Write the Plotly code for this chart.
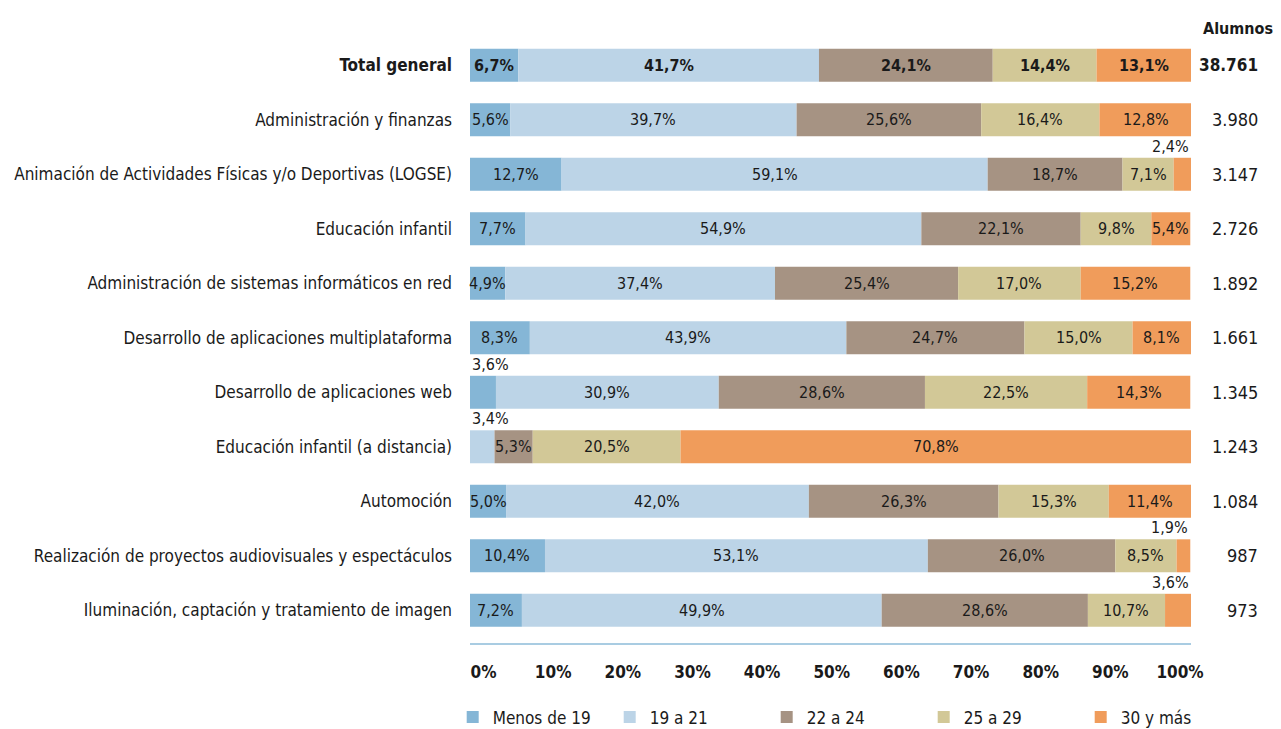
import plotly.graph_objects as go

categories = [
    "Total general",
    "Administración y finanzas",
    "Animación de Actividades Físicas y/o Deportivas (LOGSE)",
    "Educación infantil",
    "Administración de sistemas informáticos en red",
    "Desarrollo de aplicaciones multiplataforma",
    "Desarrollo de aplicaciones web",
    "Educación infantil (a distancia)",
    "Automoción",
    "Realización de proyectos audiovisuales y espectáculos",
    "Iluminación, captación y tratamiento de imagen",
]
alumnos = ["38.761", "3.980", "3.147", "2.726", "1.892", "1.661", "1.345",
           "1.243", "1.084", "987", "973"]

series_names = ["Menos de 19", "19 a 21", "22 a 24", "25 a 29", "30 y más"]
menos_19 = [6.7, 5.6, 12.7, 7.7, 4.9, 8.3, 3.6, 0.0, 5.0, 10.4, 7.2]
de_19_21 = [41.7, 39.7, 59.1, 54.9, 37.4, 43.9, 30.9, 3.4, 42.0, 53.1, 49.9]
de_22_24 = [24.1, 25.6, 18.7, 22.1, 25.4, 24.7, 28.6, 5.3, 26.3, 26.0, 28.6]
de_25_29 = [14.4, 16.4, 7.1, 9.8, 17.0, 15.0, 22.5, 20.5, 15.3, 8.5, 10.7]
mas_30 = [13.1, 12.8, 2.4, 5.4, 15.2, 8.1, 14.3, 70.8, 11.4, 1.9, 3.6]

x_ticks = [0, 10, 20, 30, 40, 50, 60, 70, 80, 90, 100]

colors = ["#85b6d6", "#bcd4e7", "#a69383", "#d2c897", "#f09c5b"]
FONT = "DejaVu Sans Condensed, Liberation Sans Narrow, sans-serif"
TXT = "#1a1a1a"
SMALL = 4.0

series = [menos_19, de_19_21, de_22_24, de_25_29, mas_30]
ypos = list(range(len(categories)))

def fmt(v):
    return f"{v:.1f}".replace(".", ",") + "%"

fig = go.Figure()
annotations = []
cum = [0.0] * len(categories)
for name, vals, col in zip(series_names, series, colors):
    for i, v in enumerate(vals):
        if v <= 0:
            continue
        t = fmt(v)
        if i == 0:
            t = f"<b>{t}</b>"
        start = cum[i]
        if v >= SMALL:
            annotations.append(dict(
                x=start + v / 2, y=i, xref="x", yref="y", text=t,
                showarrow=False, xanchor="center", yanchor="middle",
                font=dict(family=FONT, size=16, color=TXT),
            ))
        else:
            left = start < 50
            annotations.append(dict(
                x=start if left else start + v, y=i - 0.30,
                xref="x", yref="y", text=t, showarrow=False,
                xanchor="left" if left else "right", yanchor="bottom",
                font=dict(family=FONT, size=16, color=TXT),
            ))
    fig.add_trace(go.Bar(
        name=name, y=ypos, x=vals, base=cum[:], orientation="h",
        marker=dict(color=col, line=dict(width=0)),
        width=0.605, hoverinfo="skip",
    ))
    cum = [c + v for c, v in zip(cum, vals)]

for i, a in enumerate(alumnos):
    t = f"<b>{a}</b>" if i == 0 else a
    annotations.append(dict(
        x=1.0957, y=i, xref="paper", yref="y", text=t, showarrow=False,
        xanchor="right", yanchor="middle",
        font=dict(family=FONT, size=17 if i == 0 else 18, color=TXT),
    ))
annotations.append(dict(
    x=1.116, y=1.0165, xref="paper", yref="paper", text="<b>Alumnos</b>",
    showarrow=False, xanchor="right", yanchor="middle",
    font=dict(family=FONT, size=16, color=TXT),
))

ticktext = [f"<b>{c}</b>" if i == 0 else c for i, c in enumerate(categories)]

# invisible helper trace so the tick-label axis is rendered
fig.add_trace(go.Scatter(x=[None], y=[None], xaxis="x2", yaxis="y",
                         showlegend=False, hoverinfo="skip"))

fig.update_layout(
    width=1273, height=721,
    barmode="overlay",
    paper_bgcolor="white", plot_bgcolor="white",
    margin=dict(l=462, r=90, t=30, b=86, autoexpand=False),
    font=dict(family=FONT, color=TXT),
    showlegend=True,
    legend=dict(
        orientation="h", x=-0.024, xanchor="left", y=-0.153, yanchor="bottom",
        font=dict(family=FONT, size=17, color=TXT),
        entrywidth=112, entrywidthmode="pixels", itemwidth=30,
        traceorder="normal",
    ),
    annotations=annotations,
    xaxis=dict(
        range=[0, 100], showgrid=False, zeroline=False, showline=True,
        linecolor="#a9cce2", linewidth=2, ticks="", showticklabels=False,
        fixedrange=True, automargin=False,
    ),
    xaxis2=dict(
        overlaying="x", anchor="y", side="bottom", range=[-1.94, 101.58],
        tickvals=x_ticks, ticktext=[f"<b>{v}%</b>" for v in x_ticks],
        showgrid=False, zeroline=False, showline=False, ticks="",
        ticklabelstandoff=17, tickfont=dict(family=FONT, size=17, color=TXT),
        fixedrange=True, automargin=False,
    ),
    yaxis=dict(
        range=[10.6, -0.5], tickvals=ypos, ticktext=ticktext,
        showgrid=False, zeroline=False, showline=False, ticks="",
        ticklabelstandoff=17, tickfont=dict(family=FONT, size=17, color=TXT),
        fixedrange=True, automargin=False,
    ),
)

fig.write_html("out.html")
